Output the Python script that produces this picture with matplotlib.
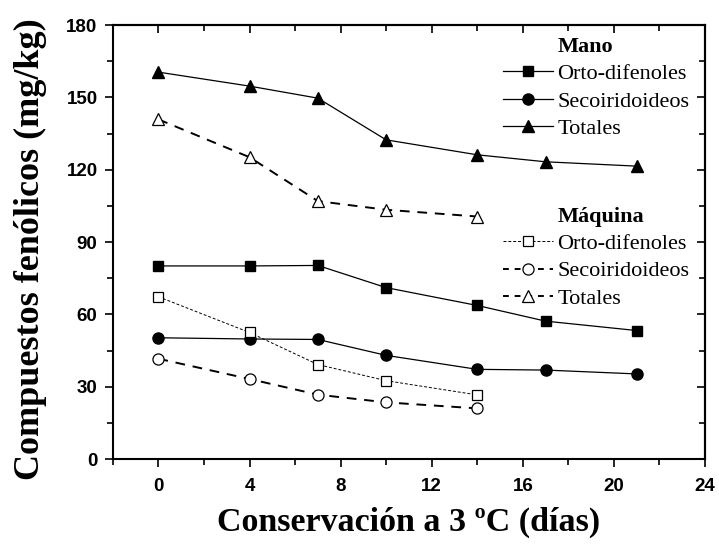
import matplotlib
matplotlib.use("Agg")
import matplotlib.pyplot as plt
from matplotlib.ticker import MultipleLocator
from matplotlib.lines import Line2D
from matplotlib.font_manager import FontProperties

# Data
dias_mano = [0, 4, 7, 10, 14, 17, 21]
mano_orto = [80.1, 80.1, 80.3, 71.1, 63.7, 57.2, 53.3]
mano_seco = [50.3, 49.8, 49.6, 43.0, 37.2, 36.9, 35.3]
mano_tot = [160.5, 154.7, 149.7, 132.4, 126.2, 123.3, 121.5]

dias_maq = [0, 4, 7, 10, 14]
maq_orto = [67.3, 52.5, 39.2, 32.5, 26.6]
maq_seco = [41.6, 33.2, 26.7, 23.5, 21.0]
maq_tot = [140.9, 125.2, 107.0, 103.4, 100.6]

xticks = [0, 4, 8, 12, 16, 20, 24]
yticks = [0, 30, 60, 90, 120, 150, 180]

fig = plt.figure(figsize=(7.19, 5.46), dpi=100)
ax = fig.add_axes([0.157, 0.1593, 0.8235, 0.7947])

ms = 7
ax.plot(dias_mano, mano_orto, color='black', lw=0.9, marker='s', ms=ms, mfc='black', mec='black')
ax.plot(dias_mano, mano_seco, color='black', lw=0.9, marker='o', ms=ms + 1, mfc='black', mec='black')
ax.plot(dias_mano, mano_tot, color='black', lw=0.9, marker='^', ms=ms + 1, mfc='black', mec='black')

ax.plot(dias_maq, maq_orto, color='black', lw=0.7, ls=(0, (3, 2)), marker='s', ms=ms, mfc='white', mec='black', mew=0.9)
ax.plot(dias_maq, maq_seco, color='black', lw=1.4, ls=(0, (5, 4)), marker='o', ms=ms + 1, mfc='white', mec='black', mew=0.9)
ax.plot(dias_maq, maq_tot, color='black', lw=1.4, ls=(0, (5, 4)), marker='^', ms=ms + 1, mfc='white', mec='black', mew=0.9)

ax.set_xlim(-2, 24)
ax.set_ylim(0, 180)
ax.set_xticks(xticks)
ax.set_yticks(yticks)
ax.xaxis.set_minor_locator(MultipleLocator(2))
ax.yaxis.set_minor_locator(MultipleLocator(15))

for s in ax.spines.values():
    s.set_linewidth(1.5)

ax.tick_params(which='both', bottom=True, left=True, top=False, right=False, direction='out', width=1.2)
ax.tick_params(which='major', length=6)
ax.tick_params(which='minor', length=4)

# inward ticks on top and right via secondary axes
axt = ax.secondary_xaxis('top')
axt.set_xticks(xticks)
axt.xaxis.set_minor_locator(MultipleLocator(2))
axt.tick_params(which='both', direction='in', labeltop=False, width=1.2)
axt.tick_params(which='major', length=6)
axt.tick_params(which='minor', length=4)
axr = ax.secondary_yaxis('right')
axr.set_yticks(yticks)
axr.yaxis.set_minor_locator(MultipleLocator(15))
axr.tick_params(which='both', direction='in', labelright=False, width=1.2)
axr.tick_params(which='major', length=6)
axr.tick_params(which='minor', length=4)
for a in (axt, axr):
    for s in a.spines.values():
        s.set_linewidth(1.5)

tickfont = FontProperties(family='Liberation Sans', weight='bold', size=13.5)
for lab in ax.get_xticklabels() + ax.get_yticklabels():
    lab.set_fontproperties(tickfont)
ax.tick_params(axis='x', pad=8)
ax.tick_params(axis='y', pad=5)

ax.set_xlabel('Conservación a 3 ºC (días)', family='Liberation Serif', weight='bold', size=24.5, labelpad=8)
ax.set_ylabel('Compuestos fenólicos (mg/kg)', family='Liberation Serif', weight='bold', size=26)
ax.yaxis.set_label_coords(-0.112, 0.484)

blank = Line2D([], [], color='none')
h_mano = [blank,
          Line2D([], [], color='black', lw=0.9, marker='s', ms=ms, mfc='black'),
          Line2D([], [], color='black', lw=0.9, marker='o', ms=ms + 1, mfc='black'),
          Line2D([], [], color='black', lw=0.9, marker='^', ms=ms + 1, mfc='black')]
h_maq = [blank,
         Line2D([], [], color='black', lw=0.7, ls=(0, (3, 2)), marker='s', ms=ms, mfc='white', mew=0.9),
         Line2D([], [], color='black', lw=1.4, ls=(0, (3, 3)), marker='o', ms=ms + 1, mfc='white', mew=0.9),
         Line2D([], [], color='black', lw=1.4, ls=(0, (3, 3)), marker='^', ms=ms + 1, mfc='white', mew=0.9)]
labels_mano = ['Mano', 'Orto-difenoles', 'Secoiridoideos', 'Totales']
labels_maq = ['Máquina', 'Orto-difenoles', 'Secoiridoideos', 'Totales']

legprops = dict(frameon=False, prop={'family': 'Liberation Serif', 'size': 16}, handlelength=2.25,
                handletextpad=0.2, labelspacing=0.31, borderaxespad=0.0, borderpad=0.0)
leg1 = ax.legend(h_mano, labels_mano, loc='upper left', bbox_to_anchor=(0.659, 0.9745), **legprops)
leg1.get_texts()[0].set_fontweight('bold')
ax.add_artist(leg1)
leg2 = ax.legend(h_maq, labels_maq, loc='upper left', bbox_to_anchor=(0.659, 0.583), **legprops)
leg2.get_texts()[0].set_fontweight('bold')

fig.savefig('out.png', dpi=100)
